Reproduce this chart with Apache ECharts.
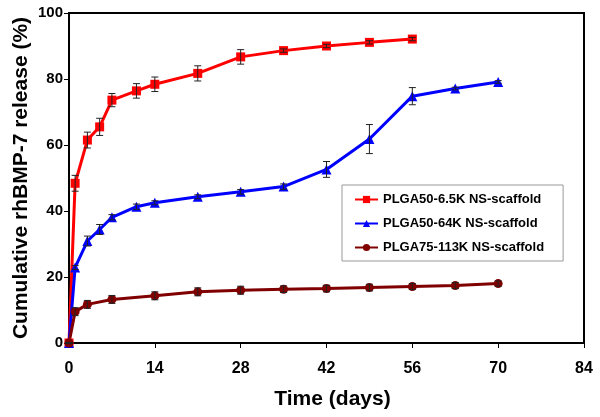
<!DOCTYPE html>
<html><head><meta charset="utf-8">
<script src="https://cdn.jsdelivr.net/npm/echarts@6/dist/echarts.min.js"></script>
<style>html,body{margin:0;padding:0;background:#fff}#c{width:600px;height:417px}</style>
</head><body><div id="c"></div>
<script>
var xTicks = [0,14,28,42,56,70,84];
var yTicks = [0,20,40,60,80,100];
var daysRed = [0,1,3,5,7,11,14,21,28,35,42,49,56];
var valsRed = [0,48.4,61.5,65.5,73.6,76.4,78.4,81.7,86.7,88.6,90.0,91.1,92.1];
var errRed  = [0,2.4,2.4,2.6,2.0,2.2,2.2,2.3,2.2,0.5,0.5,0.5,0.5];
var daysBlue = [0,1,3,5,7,11,14,21,28,35,42,49,56,63,70];
var valsBlue = [0,22.9,30.9,34.4,38.1,41.3,42.5,44.3,45.8,47.4,52.6,61.8,74.8,77.1,79.1];
var errBlue  = [0,0.6,1.5,1.5,0.8,0.8,0.6,0.6,0.7,0.8,2.4,4.4,2.6,0.4,0.4];
var daysDark = [0,1,3,7,14,21,28,35,42,49,56,63,70];
var valsDark = [0,9.5,11.7,13.2,14.3,15.5,16.0,16.3,16.5,16.8,17.1,17.4,18.0];
var errDark  = [0,1.2,1.2,1.2,1.2,1.2,1.2,1.0,1.0,1.0,0.9,0.9,0.8];
var names = ['PLGA50-6.5K NS-scaffold','PLGA50-64K NS-scaffold','PLGA75-113K NS-scaffold'];

function pairs(d, v){ return d.map(function(x,i){return [x, v[i]];}); }
function errData(d, v, e){ return d.map(function(x,i){return [x, v[i]-e[i], v[i]+e[i]];}); }
function renderErr(params, api){
  var x = api.value(0);
  var lo = api.coord([x, api.value(1)]);
  var hi = api.coord([x, api.value(2)]);
  var w = 3.5;
  var st = {stroke:'#222', lineWidth:1};
  return {type:'group', children:[
    {type:'line', shape:{x1:lo[0],y1:lo[1],x2:hi[0],y2:hi[1]}, style:st},
    {type:'line', shape:{x1:lo[0]-w,y1:lo[1],x2:lo[0]+w,y2:lo[1]}, style:st},
    {type:'line', shape:{x1:hi[0]-w,y1:hi[1],x2:hi[0]+w,y2:hi[1]}, style:st}
  ]};
}
var font = 'Liberation Sans, Arial, sans-serif';
var chart = echarts.init(document.getElementById('c'));
chart.setOption({
  animation:false,
  grid:{left:69, right:16, top:13, bottom:74, containLabel:false, outerBoundsMode:'none',
    show:true, borderColor:'#000', borderWidth:2},
  xAxis:{type:'value', min:0, max:84, interval:14,
    name:'Time (days)', nameLocation:'middle', nameGap:46,
    nameTextStyle:{fontFamily:font, fontWeight:'bold', fontSize:21, color:'#000', padding:[0,0,0,12]},
    axisLine:{lineStyle:{color:'#000', width:2}},
    axisTick:{show:true, length:5, lineStyle:{color:'#000', width:1}},
    axisLabel:{fontFamily:font, fontWeight:'bold', fontSize:16, color:'#000', margin:18},
    splitLine:{show:false}},
  yAxis:{type:'value', min:0, max:100, interval:20,
    name:'Cumulative rhBMP-7 release (%)', nameLocation:'middle', nameGap:37, nameMoveOverlap:false,
    nameTextStyle:{fontFamily:font, fontWeight:'bold', fontSize:21, color:'#000'},
    axisLine:{show:true, lineStyle:{color:'#000', width:2}},
    axisTick:{show:true, length:5, lineStyle:{color:'#000', width:1}},
    axisLabel:{fontFamily:font, fontWeight:'bold', fontSize:15, color:'#000', margin:6},
    splitLine:{show:false}},
  legend:{orient:'vertical', left:342, top:185,
    data:names, itemWidth:23, itemHeight:9, itemGap:11,
    padding:[8,19,7,12], borderColor:'#999', borderWidth:1,
    textStyle:{fontFamily:font, fontWeight:'bold', fontSize:13, color:'#000', lineHeight:13}},
  series:[
    {name:names[0], type:'line', data:pairs(daysRed,valsRed), symbol:'rect', symbolSize:9,
      lineStyle:{color:'#ff0000', width:3}, itemStyle:{color:'#ff0000'}, z:3},
    {name:names[1], type:'line', data:pairs(daysBlue,valsBlue), symbol:'triangle', symbolSize:10,
      lineStyle:{color:'#0000ff', width:3}, itemStyle:{color:'#0000ff'}, z:3},
    {name:names[2], type:'line', data:pairs(daysDark,valsDark), symbol:'circle', symbolSize:9,
      lineStyle:{color:'#800000', width:3}, itemStyle:{color:'#800000'}, z:3},
    {type:'custom', renderItem:renderErr, data:errData(daysRed,valsRed,errRed), z:4, silent:true},
    {type:'custom', renderItem:renderErr, data:errData(daysBlue,valsBlue,errBlue), z:4, silent:true},
    {type:'custom', renderItem:renderErr, data:errData(daysDark,valsDark,errDark), z:4, silent:true}
  ]
});
</script></body></html>
